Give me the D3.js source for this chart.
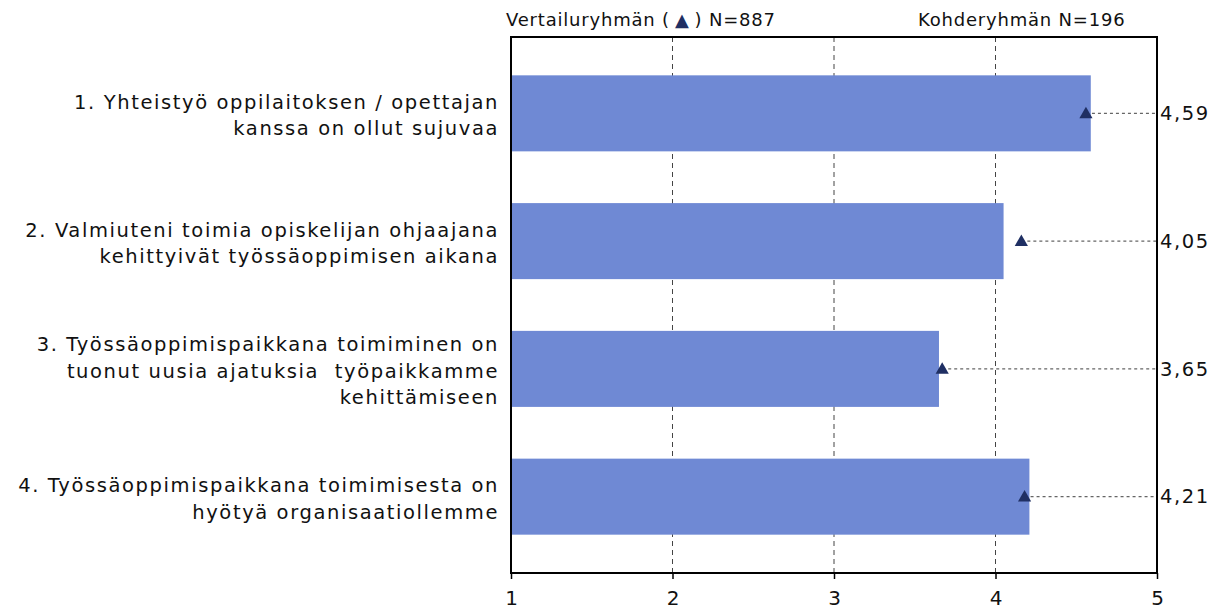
<!DOCTYPE html>
<html>
<head>
<meta charset="utf-8">
<script src="https://d3js.org/d3.v7.min.js"></script>
<style>
  body { margin: 0; background: #fff; }
  text { font-family: "DejaVu Sans", Verdana, sans-serif; fill: #111; }
  .lbl { font-size: 19.5px; letter-spacing: 1.6px; }
  .val { font-size: 19.5px; letter-spacing: 1.6px; }
  .head { font-size: 18px; letter-spacing: 0.8px; }
  .axis text { font-size: 20px; }
  .bar { fill: #6f89d4; }
  .grid { stroke: #444; stroke-dasharray: 5,4; stroke-width: 1; }
  .lead { stroke: #666; stroke-dasharray: 3,3; stroke-width: 1.2; }
</style>
</head>
<body>
<script>
var categories = [
  ["1. Yhteistyö oppilaitoksen / opettajan", "kanssa on ollut sujuvaa"],
  ["2. Valmiuteni toimia opiskelijan ohjaajana", "kehittyivät työssäoppimisen aikana"],
  ["3. Työssäoppimispaikkana toimiminen on", "tuonut uusia ajatuksia  työpaikkamme", "kehittämiseen"],
  ["4. Työssäoppimispaikkana toimimisesta on", "hyötyä organisaatiollemme"]
];
var targetValues = [4.59, 4.05, 3.65, 4.21];      // Kohderyhmä (bars)
var compareValues = [4.56, 4.16, 3.67, 4.18];     // Vertailuryhmä (triangles)
var tickValues = [1, 2, 3, 4, 5];
var headCompare = ["Vertailuryhmän (", "\u25B2", ") N=887"];
var headTarget = "Kohderyhmän N=196";

var W = 1221, H = 612;
var pL = 511, pR = 1157, pT = 37, pB = 573;

var svg = d3.select("body").append("svg").attr("width", W).attr("height", H);

var x = d3.scaleLinear().domain([1, 5]).range([pL, pR]);
var y = d3.scaleBand().domain(d3.range(categories.length))
  .range([pT, pB]).paddingInner(0.405).paddingOuter(0.3);
var fmt = function(v) { return d3.format(".2f")(v).replace(".", ","); };

// grid
svg.selectAll(".grid").data(tickValues.slice(1, -1)).enter().append("line")
  .attr("class", "grid")
  .attr("x1", function(d) { return x(d); }).attr("x2", function(d) { return x(d); })
  .attr("y1", pT).attr("y2", pB);

// bars
svg.selectAll(".bar").data(targetValues).enter().append("rect")
  .attr("class", "bar")
  .attr("x", x(1) + 1)
  .attr("y", function(d, i) { return y(i); })
  .attr("width", function(d) { return x(d) - x(1) - 1; })
  .attr("height", y.bandwidth());

// leader lines from triangle to right edge
svg.selectAll(".lead").data(compareValues).enter().append("line")
  .attr("class", "lead")
  .attr("x1", function(d) { return x(d); }).attr("x2", pR)
  .attr("y1", function(d, i) { return y(i) + y.bandwidth() / 2; })
  .attr("y2", function(d, i) { return y(i) + y.bandwidth() / 2; });

// triangles
svg.selectAll(".tri").data(compareValues).enter().append("path")
  .attr("class", "tri")
  .attr("d", d3.symbol().type(d3.symbolTriangle).size(75))
  .attr("fill", "#1f2f63")
  .attr("transform", function(d, i) { return "translate(" + x(d) + "," + (y(i) + y.bandwidth() / 2 + 1) + ")"; });

// frame
svg.append("rect").attr("x", pL).attr("y", pT)
  .attr("width", pR - pL).attr("height", pB - pT)
  .attr("fill", "none").attr("stroke", "#000").attr("stroke-width", 2);

// x axis
var gx = svg.append("g").attr("class", "axis")
  .attr("transform", "translate(0," + pB + ")")
  .call(d3.axisBottom(x).tickValues(tickValues).tickSize(6).tickPadding(12).tickFormat(d3.format("d")));
gx.select(".domain").remove();
gx.selectAll(".tick line").attr("stroke", "#000").attr("stroke-width", 1.5);

// value labels
svg.selectAll(".val").data(targetValues).enter().append("text")
  .attr("class", "val")
  .attr("x", pR + 3)
  .attr("y", function(d, i) { return y(i) + y.bandwidth() / 2; })
  .attr("dy", "0.35em")
  .text(fmt);

// category labels
var lineH = 26.5;
svg.selectAll(".lbl").data(categories).enter().append("text")
  .attr("class", "lbl")
  .attr("text-anchor", "end")
  .each(function(lines, i) {
    var cy = y(i) + y.bandwidth() / 2 + 2;
    var t0 = cy - (lines.length - 1) * lineH / 2;
    d3.select(this).selectAll("tspan").data(lines).enter().append("tspan")
      .attr("x", 499)
      .attr("y", function(d, j) { return t0 + j * lineH; })
      .attr("dy", "0.35em")
      .style("white-space", "pre")
      .text(function(d) { return d; });
  });

// header
var h1 = svg.append("text").attr("class", "head").attr("x", 506).attr("y", 26);
h1.append("tspan").text(headCompare[0]);
h1.append("tspan").attr("dx", 5).attr("fill", "#1f2f63").text(headCompare[1]);
h1.append("tspan").attr("dx", 5).text(headCompare[2]);
svg.append("text").attr("class", "head").attr("x", 918).attr("y", 26).text(headTarget);
</script>
</body>
</html>
